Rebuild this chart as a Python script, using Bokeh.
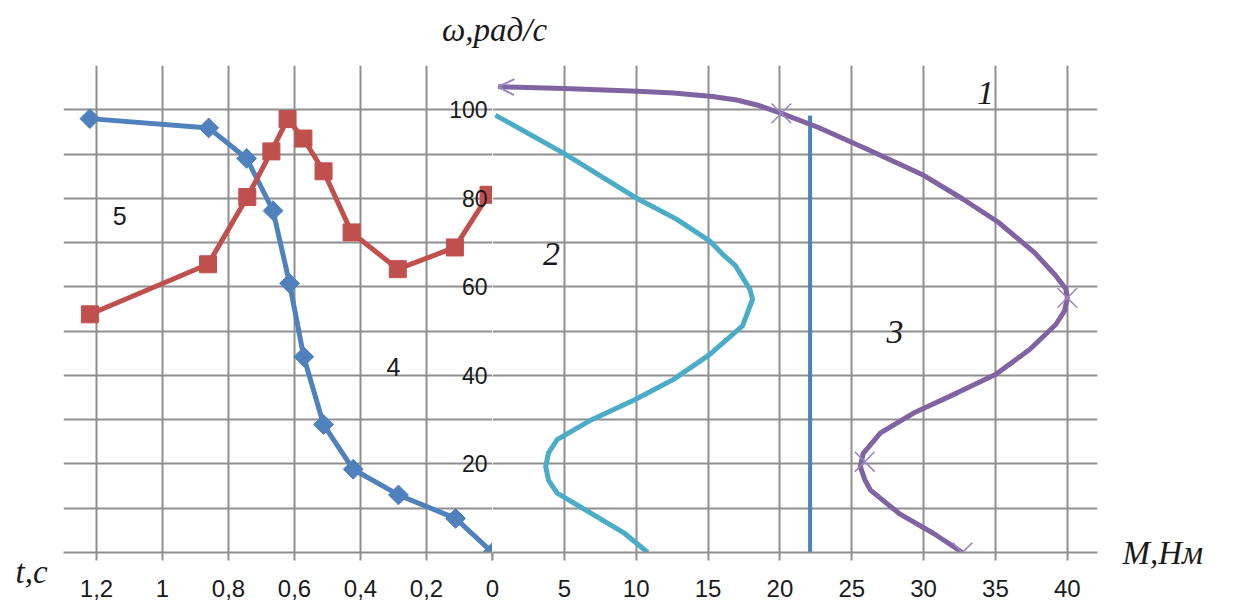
import math
from bokeh.plotting import figure
from bokeh.layouts import row, column
from bokeh.models import Range1d, FixedTicker, Label, Arrow, OpenHead
from bokeh.embed import file_html
from bokeh.resources import INLINE

# ---------------- data ----------------
# curve 4 (blue, left part): time t [s] vs angular speed omega [rad/s]
t_blue = [1.22, 0.86, 0.745, 0.665, 0.615, 0.572, 0.512, 0.422, 0.285, 0.112, 0.0]
w_blue = [98.0, 95.9, 89.0, 77.2, 60.8, 44.2, 28.9, 18.8, 13.0, 7.7, 0.0]

# curve 5 (red, left part)
t_red = [1.22, 0.862, 0.743, 0.670, 0.621, 0.573, 0.512, 0.427, 0.287, 0.114, 0.012]
w_red = [53.8, 65.1, 80.3, 90.6, 97.9, 93.5, 86.1, 72.3, 64.0, 68.9, 80.8]

# curve 1 (purple, right part): torque M [Nm] vs omega
M_curve1 = [0.4, 5.0, 10.1, 12.6, 15.3, 17.0, 18.6, 20.1, 22.6, 26.0, 30.0, 32.7, 35.2,
            37.7, 39.2, 39.9, 40.0, 39.8, 39.2, 37.4, 35.0, 32.3, 29.3, 27.0, 25.8,
            25.6, 25.9, 26.3, 28.3, 30.7, 32.7]
w_curve1 = [105.2, 104.8, 104.2, 103.8, 103.0, 102.2, 100.9, 99.2, 96.1, 91.2, 85.2, 79.9,
            74.6, 67.8, 62.5, 59.5, 57.5, 54.5, 51.5, 45.9, 40.2, 36.0, 31.5, 27.0, 22.4,
            19.4, 16.5, 14.1, 8.8, 4.3, 0.0]
M_curve1_marks = [20.1, 40.0, 25.9, 32.7]
w_curve1_marks = [99.2, 57.5, 20.5, 0.0]

# curve 2 (cyan, right part)
M_curve2 = [0.2, 5.0, 10.1, 12.8, 15.1, 16.0, 16.9, 17.9, 18.1, 17.4, 15.1, 12.6, 9.9,
            6.9, 4.5, 3.9, 3.7, 3.9, 4.5, 6.9, 9.2, 10.8]
w_curve2 = [98.8, 90.1, 79.9, 75.3, 70.4, 67.4, 64.8, 59.5, 57.2, 51.2, 44.7, 39.1, 34.5,
            30.0, 25.5, 22.5, 19.4, 16.3, 13.4, 8.8, 4.3, 0.0]

# curve 3 (blue vertical line, right part)
M_curve3 = [22.1, 22.1]
w_curve3 = [0.0, 98.7]

# axes
t_ticks = [0, 0.2, 0.4, 0.6, 0.8, 1, 1.2]
M_ticks = [0, 5, 10, 15, 20, 25, 30, 35, 40]
w_grid = [0, 10, 20, 30, 40, 50, 60, 70, 80, 90, 100, 110]
w_tick_labels = [20, 40, 60, 80, 100]

# ---------------- style ----------------
GRID = "#8f8f8f"
BLUE = "#4F81BD"
RED = "#C0504D"
PURPLE = "#8064A2"
LIGHT_PURPLE = "#9a86c4"
CYAN = "#4BACC6"
INK = "#1a1a1a"
NUM_FONT = "Liberation Sans"
SERIF = "Liberation Serif"

H = 600
common = dict(height=H, output_backend="svg", toolbar_location=None,
              min_border_top=65, min_border_bottom=48,
              y_range=Range1d(0, 110), outline_line_color=None)

# ---------------- left figure (t axis, reversed) ----------------
pL = figure(width=492, x_range=Range1d(1.3, 0), y_axis_location=None,
            min_border_left=63, min_border_right=0, **common)

pL.xgrid.ticker = FixedTicker(ticks=t_ticks)
pL.ygrid.ticker = FixedTicker(ticks=w_grid)

pL.line(t_blue, w_blue, line_color=BLUE, line_width=5)
pL.scatter(t_blue, w_blue, marker="square", angle=math.pi / 4, size=14,
           fill_color=BLUE, line_color=BLUE)
pL.line(t_red, w_red, line_color=RED, line_width=5)
pL.scatter(t_red, w_red, marker="square", size=17, fill_color=RED, line_color=RED)

pL.xaxis.ticker = FixedTicker(ticks=t_ticks)
pL.xaxis.major_label_overrides = {v: ("" if v == 0 else str(v).replace(".", ",")) for v in t_ticks}

pL.add_layout(Label(x=1.13, y=76.1, text="5", text_font=NUM_FONT, text_font_size="25px",
                    text_align="center", text_baseline="middle", text_color=INK))
pL.add_layout(Label(x=0.30, y=41.8, text="4", text_font=NUM_FONT, text_font_size="25px",
                    text_align="center", text_baseline="middle", text_color=INK))

# ---------------- right figure (M axis) ----------------
pR = figure(width=790, x_range=Range1d(0, 42.1), min_border_left=60, min_border_right=125,
            background_fill_alpha=0, border_fill_alpha=0, margin=(0, 0, 0, -60), **common)

pR.xgrid.ticker = FixedTicker(ticks=M_ticks)
pR.ygrid.ticker = FixedTicker(ticks=w_grid)

pR.line(M_curve2, w_curve2, line_color=CYAN, line_width=5)
pR.line(M_curve3, w_curve3, line_color=BLUE, line_width=4)
pR.line(M_curve1, w_curve1, line_color=PURPLE, line_width=5)
pR.scatter(M_curve1_marks, w_curve1_marks, marker="x", size=28,
           line_color=LIGHT_PURPLE, line_width=1.5)
pR.add_layout(Arrow(end=OpenHead(size=16, line_color=LIGHT_PURPLE, line_width=2),
                    x_start=M_curve1[1], y_start=w_curve1[1],
                    x_end=M_curve1[0], y_end=w_curve1[0],
                    line_color=PURPLE, line_width=0, line_alpha=0))

pR.xaxis.ticker = FixedTicker(ticks=M_ticks)
pR.yaxis.ticker = FixedTicker(ticks=w_tick_labels)
pR.yaxis.axis_line_color = None
pR.yaxis.major_tick_in = 0
pR.yaxis.major_tick_out = 0
pR.yaxis.minor_tick_line_color = None
pR.yaxis.major_label_standoff = 5
pR.yaxis.major_label_text_font = NUM_FONT
pR.yaxis.major_label_text_font_size = "23px"
pR.yaxis.major_label_text_color = INK

for lab, x, y in [("1", 34.3, 103.7), ("2", 4.1, 67.4), ("3", 28.0, 49.7)]:
    pR.add_layout(Label(x=x, y=y, text=lab, text_font=SERIF, text_font_style="italic",
                        text_font_size="34px", text_align="center", text_baseline="middle",
                        text_color=INK))

for p in (pL, pR):
    for g in (p.xgrid, p.ygrid):
        g.grid_line_color = GRID
        g.grid_line_width = 2
    ax = p.xaxis
    ax.axis_line_color = GRID
    ax.axis_line_width = 2
    ax.major_tick_line_color = GRID
    ax.major_tick_line_width = 2
    ax.major_tick_in = 0
    ax.major_tick_out = 8
    ax.minor_tick_line_color = None
    ax.major_label_standoff = 19
    ax.major_label_text_line_height = 0.7
    ax.major_label_text_font = NUM_FONT
    ax.major_label_text_font_size = "24px"
    ax.major_label_text_color = INK

# ---------------- transparent overlay for the axis names ----------------
OW = 1222
pO = figure(width=OW, height=H, x_range=Range1d(0, OW), y_range=Range1d(H, 0),
            x_axis_location=None, y_axis_location=None, min_border=0,
            outline_line_color=None, background_fill_alpha=0, border_fill_alpha=0,
            output_backend="svg", toolbar_location=None, margin=(-H, 0, 0, 0))
pO.xgrid.visible = False
pO.ygrid.visible = False

name_style = dict(text_font=SERIF, text_font_style="italic", text_font_size="33px",
                  text_baseline="middle", text_color=INK)
pO.add_layout(Label(x=494, y=29, text="ω,рад/с", text_align="center", **name_style))
pO.add_layout(Label(x=31, y=571, text="t,c", text_align="center", **name_style))
pO.add_layout(Label(x=1122, y=552, text="M,Нм", text_align="left", **name_style))

layout = column(row(pL, pR, spacing=0), pO, spacing=0)
open("out.html", "w").write(file_html(layout, INLINE))
